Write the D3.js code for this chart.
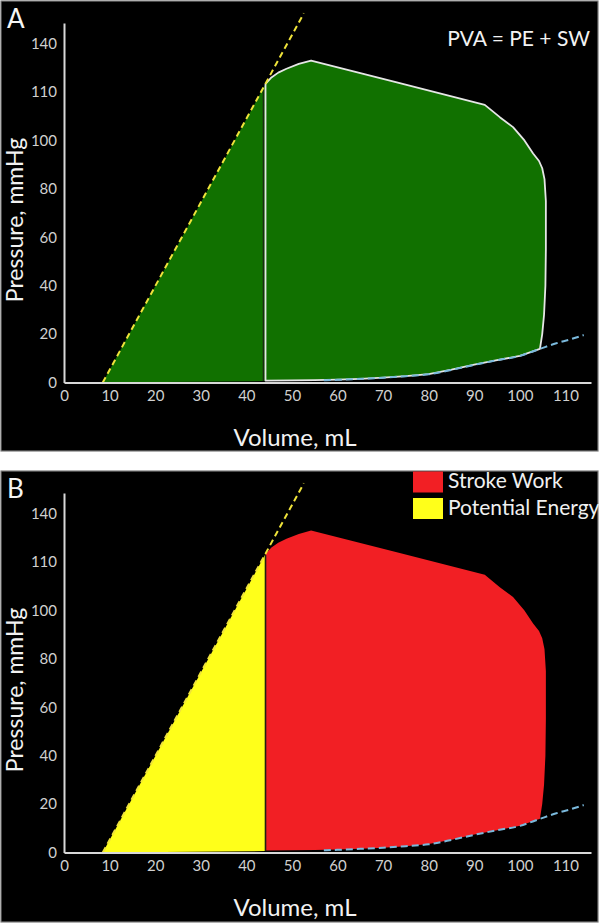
<!DOCTYPE html>
<html>
<head>
<meta charset="utf-8">
<script src="https://cdn.jsdelivr.net/npm/d3@7"></script>
<style>
  html, body { margin: 0; padding: 0; background: #ffffff; }
  svg { display: block; }
  text { font-family: Lato, "Open Sans", sans-serif; }
</style>
</head>
<body>
<div id="chart"></div>
<script>
// ---------- DATA ----------
const xTickValues = [0, 10, 20, 30, 40, 50, 60, 70, 80, 90, 100, 110];
const yTickValues = [0, 20, 40, 60, 80, 100, 120, 140];
const yTickLabels = ["0", "20", "40", "60", "80", "100", "110", "140"];

// ESPVR (dashed yellow line): volume, pressure
const espvrVolume = [8.5, 52.6];
const espvrPressure = [0, 152.5];

// EDPVR (dashed blue line)
const edpvrVolume = [57, 60, 65, 70, 75, 80, 85, 90, 95, 100, 104.4, 108, 111, 114];
const edpvrPressure = [0.9, 1.1, 1.5, 2.0, 2.6, 3.4, 5.2, 7.3, 9.2, 11.0, 13.9, 16.2, 17.8, 19.6];

// Pressure-volume loop (counter-clockwise from end-systole)
const loopVolume = [44.2, 44.2, 45.5, 47.0, 48.8, 51.5, 54.2, 73, 92.3, 95.6, 98.5, 101.0, 102.9, 104.2, 104.9, 105.4, 105.7, 105.7, 105.6, 105.3, 104.9, 104.4,
                    100, 95, 90, 85, 80, 75, 70, 65, 60, 55, 50, 44.2];
const loopPressure = [0.8, 123.3, 126.0, 128.0, 129.6, 131.6, 133.0, 124, 114.7, 109.6, 105.5, 100.0, 94.6, 91.5, 88.5, 84, 75, 55, 40, 28, 20, 13.9,
                      11.0, 9.2, 7.4, 5.3, 3.5, 2.6, 2.0, 1.5, 1.2, 1.0, 0.9, 0.8];

// Potential energy triangle
const peVolume = [8.5, 44.2, 44.2];
const pePressure = [0, 123.3, 0.6];

const panelLabels = ["A", "B"];
const legendLabels = ["Stroke Work", "Potential Energy"];
const legendColors = ["#f21f24", "#ffff1a"];
const formulaText = "PVA = PE + SW";

// ---------- DRAW ----------
const W = 600, H = 923;
const svg = d3.select("#chart").append("svg").attr("width", W).attr("height", H);
svg.append("rect").attr("width", W).attr("height", H).attr("fill", "#ffffff");

const x = d3.scaleLinear().domain([0, 115.6]).range([64, 591]);
const y = d3.scaleLinear().domain([0, 148.5]).range([382.5, 23]);

const zip = (a, b) => a.map((v, i) => [v, b[i]]);
const line = d3.line().x(d => x(d[0])).y(d => y(d[1]));
const smooth = d3.line().x(d => x(d[0])).y(d => y(d[1])).curve(d3.curveMonotoneX);

function panel(offsetY, h, mode) {
  const root = svg.append("g");
  root.append("rect").attr("x", 1).attr("y", offsetY + 1).attr("width", 597).attr("height", h)
    .attr("fill", "#000").attr("stroke", "#7a7a7a").attr("stroke-width", 1.2);
  const g = root.append("g").attr("transform", `translate(0,${offsetY})`);

  const loopPts = zip(loopVolume, loopPressure);
  const pePts = zip(peVolume, pePressure);

  if (mode === "A") {
    g.append("path").attr("d", line(pePts) + "Z").attr("fill", "#117100");
    g.append("path").attr("d", line(loopPts) + "Z").attr("fill", "#117100");
    g.append("line").attr("x1", x(44.2) - 2).attr("x2", x(44.2) - 2)
      .attr("y1", y(0.6)).attr("y2", y(121)).attr("stroke", "#1b2a12").attr("stroke-width", 1.5);
    g.append("path").attr("d", line(loopPts) + "Z").attr("fill", "none")
      .attr("stroke", "#e6e6e6").attr("stroke-width", 1.8).attr("stroke-linejoin", "round");
  } else {
    g.append("path").attr("d", line(pePts) + "Z").attr("fill", legendColors[1]);
    g.append("path").attr("d", line(loopPts) + "Z").attr("fill", legendColors[0]);
    g.append("line").attr("x1", x(44.2)).attr("x2", x(44.2))
      .attr("y1", y(0.6)).attr("y2", y(123)).attr("stroke", "#202010").attr("stroke-width", 1.6);
  }

  // EDPVR
  g.append("path").attr("d", smooth(zip(edpvrVolume, edpvrPressure))).attr("fill", "none")
    .attr("stroke", "#7ab9dc").attr("stroke-width", 2).attr("stroke-dasharray", "7,4");
  // ESPVR
  g.append("path").attr("d", line(zip(espvrVolume, espvrPressure))).attr("fill", "none")
    .attr("stroke", "#efe33a").attr("stroke-width", 2).attr("stroke-dasharray", "6,4");

  // Axes
  const xAxis = d3.axisBottom(x).tickValues(xTickValues).tickSize(0).tickPadding(8).tickFormat(d3.format("d"));
  const yAxis = d3.axisLeft(y).tickValues(yTickValues).tickSize(0).tickPadding(7)
    .tickFormat((d, i) => yTickLabels[i]);
  const gx = g.append("g").attr("transform", `translate(0,${y(0)})`).call(xAxis);
  const gy = g.append("g").attr("transform", `translate(${x(0)},0)`).call(yAxis);
  [gx, gy].forEach(a => {
    a.select(".domain").attr("stroke", "#d8d8d8").attr("stroke-width", 2);
    a.selectAll("text").attr("fill", "#d0d0d0").style("font-size", "15px")
      .style("font-family", "Lato, 'Open Sans', sans-serif");
  });

  // Axis titles
  g.append("text").attr("x", 295).attr("y", 446).attr("text-anchor", "middle")
    .attr("fill", "#f2f2f2").style("font-size", "24px").text("Volume, mL");
  g.append("text").attr("transform", "translate(23,220) rotate(-90)").attr("text-anchor", "middle")
    .attr("fill", "#f2f2f2").style("font-size", "23px").text("Pressure, mmHg");

  // Panel label
  g.append("text").attr("x", 7).attr("y", 28).attr("fill", "#f5f5f5").style("font-size", "26px")
    .text(mode === "A" ? panelLabels[0] : panelLabels[1]);

  if (mode === "A") {
    g.append("text").attr("x", 590).attr("y", 46).attr("text-anchor", "end")
      .attr("fill", "#f2f2f2").style("font-size", "21px").text(formulaText);
  } else {
    const lg = g.append("g");
    legendLabels.forEach((lab, i) => {
      lg.append("rect").attr("x", 413).attr("y", 1.5 + i * 26.5).attr("width", 30).attr("height", 21)
        .attr("fill", legendColors[i]);
      lg.append("text").attr("x", 448).attr("y", 18 + i * 26.5).attr("fill", "#f0f0f0")
        .style("font-size", "21px").text(lab);
    });
  }
}

panel(0, 450, "A");
panel(470, 451, "B");
</script>
</body>
</html>
